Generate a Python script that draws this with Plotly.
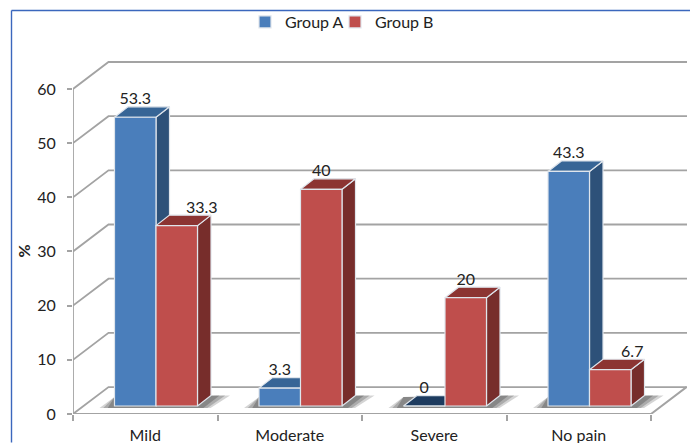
import plotly.graph_objects as go

# Chart data
categories = ["Mild", "Moderate", "Severe", "No pain"]
group_a = [53.3, 3.3, 0, 43.3]
group_b = [33.3, 40, 20, 6.7]
y_ticks = [0, 10, 20, 30, 40, 50, 60]

# Pixel scale of the plot area
WIDTH, HEIGHT = 690, 443
LEFT, RIGHT, TOP, BOTTOM = 73, 3, 60, 28.5
PX_PER_CAT = 144.5
PX_PER_PCT = 5.425
PLOT_W = WIDTH - LEFT - RIGHT
PLOT_H = HEIGHT - TOP - BOTTOM


def ux(px):
    return px / PX_PER_CAT


def uy(px):
    return px / PX_PER_PCT


x_max = ux(PLOT_W)
y_max = uy(PLOT_H)
n_cat = len(categories)

# Oblique projection: depth of the room, floor inset, and depth of a bar
ROOM_DX, ROOM_DY = ux(35.5), uy(27)
FLOOR_DX, FLOOR_DY = ux(10.75), uy(8.0)
BAR_DX, BAR_DY = ux(13.5), uy(10.5)
BAR_W = ux(41.5)

GRID = "#a3a3a3"
FONT = "Lato, 'Noto Sans', sans-serif"
INK = "#222222"
EDGE = "#dfe5ec"

fig = go.Figure()


def polygons(polys):
    xs, ys = [], []
    for poly in polys:
        for px_, py_ in poly + [poly[0]]:
            xs.append(px_)
            ys.append(py_)
        xs.append(None)
        ys.append(None)
    return xs, ys


def add_fill(polys, fill, line=None, z=1, width=1.2):
    xs, ys = polygons(polys)
    fig.add_trace(go.Scatter(
        x=xs, y=ys, mode="lines", fill="toself", fillcolor=fill,
        line=dict(color=line or fill, width=width if line else 0),
        hoverinfo="skip", showlegend=False, zorder=z, cliponaxis=False,
    ))


def add_line(xs, ys, width=1.8, z=0):
    fig.add_trace(go.Scatter(
        x=xs, y=ys, mode="lines", line=dict(color=GRID, width=width),
        hoverinfo="skip", showlegend=False, zorder=z, cliponaxis=False,
    ))


# Back wall, side wall and floor
for tick in y_ticks:
    add_line([0, ROOM_DX, x_max], [tick, tick + ROOM_DY, tick + ROOM_DY])
add_line([0, 0], [0, y_ticks[-1]])
add_line([0, n_cat, n_cat + ROOM_DX], [0, 0, ROOM_DY], width=2)


def bar_left(i, series):
    return i + 0.5 + FLOOR_DX + (series - 1) * BAR_W


# Soft floor shadows behind each pair of bars, darkest next to the bars
for grow, alpha in ((1.0, 0.25), (0.75, 0.32), (0.45, 0.42)):
    shade = []
    for i in range(n_cat):
        x0 = bar_left(i, 0)
        x1 = bar_left(i, 1) + BAR_W
        shade.append([
            (x0 - ux(15) * grow, FLOOR_DY - uy(2)),
            (x0, FLOOR_DY + uy(9)),
            (x1 + BAR_DX + ux(19) * grow, FLOOR_DY + BAR_DY),
            (x1 + ux(13) * grow, FLOOR_DY - uy(2)),
        ])
    add_fill(shade, f"rgba(85,85,85,{alpha})", z=0)


def add_series(name, values, series, front, top, side, zero_top, z, legend_id):
    tops, sides, flats = [], [], []
    for i, v in enumerate(values):
        x0 = bar_left(i, series)
        x1 = x0 + BAR_W
        base = FLOOR_DY
        t = base + v
        face = [(x0, t), (x1, t), (x1 + BAR_DX, t + BAR_DY), (x0 + BAR_DX, t + BAR_DY)]
        (flats if v == 0 else tops).append(face)
        if v > 0:
            sides.append([(x1, base), (x1, t), (x1 + BAR_DX, t + BAR_DY), (x1 + BAR_DX, base + BAR_DY)])
    add_fill(sides, side, EDGE, z)
    add_fill(tops, top, EDGE, z)
    if flats:
        add_fill(flats, zero_top, EDGE, z)
    fig.add_trace(go.Bar(
        name=name,
        x=[i + 0.5 for i in range(n_cat)],
        y=values,
        base=FLOOR_DY,
        width=BAR_W,
        offset=FLOOR_DX + (series - 1) * BAR_W,
        marker=dict(color=front, line=dict(color=EDGE, width=1.2)),
        zorder=z + 1,
        hoverinfo="skip",
        showlegend=True,
        legend=legend_id,
    ))


add_series("Group A", group_a, 0, "#4a7ebb", "#376596", "#2d5179", "#1d3b5f", 1, "legend")
add_series("Group B", group_b, 1, "#bf4e4c", "#8c3432", "#772d2b", "#772d2b", 3, "legend2")

# Value labels sit just above the top face; two are nudged clear of the taller neighbour
shift_a = [0, 0, 0, 0]
shift_b = [25, 0, 0, 22]
label_x, label_y, label_text = [], [], []
for series, values, shifts in ((0, group_a, shift_a), (1, group_b, shift_b)):
    for i, v in enumerate(values):
        label_x.append(bar_left(i, series) + BAR_W / 2 + ux(shifts[i]))
        label_y.append(FLOOR_DY + v + uy(17))
        label_text.append(f"{v:g}")
fig.add_trace(go.Scatter(
    x=label_x, y=label_y, text=label_text, mode="text",
    textposition="middle center",
    textfont=dict(family=FONT, size=16, color=INK),
    hoverinfo="skip", showlegend=False, zorder=6, cliponaxis=False,
))

# Chart frame: only the top and left edges fall inside the page
frame_x = (11.5 - LEFT) / PLOT_W
frame_y = (HEIGHT - BOTTOM - 10.5) / PLOT_H
frame_x1 = (WIDTH - LEFT) / PLOT_W
frame_y0 = -BOTTOM / PLOT_H
frame = dict(color="#3b67bd", width=1.4)
fig.add_shape(type="line", xref="paper", yref="paper", x0=frame_x, x1=frame_x1, y0=frame_y, y1=frame_y, line=frame)
fig.add_shape(type="line", xref="paper", yref="paper", x0=frame_x, x1=frame_x, y0=frame_y0, y1=frame_y, line=frame)

# Axis title placed beside the 30 tick
fig.add_annotation(
    text="<b>%</b>", textangle=-90, xref="paper", yref="y",
    x=(23 - LEFT) / PLOT_W, y=30, showarrow=False,
    xanchor="center", yanchor="middle",
    font=dict(family=FONT, size=16, color=INK),
)


def legend_box(px_left):
    return dict(
        orientation="h", x=(px_left - LEFT) / PLOT_W, y=(HEIGHT - BOTTOM - 22) / PLOT_H,
        xanchor="left", yanchor="middle", font=dict(size=16), itemwidth=30,
        bgcolor="rgba(0,0,0,0)",
    )


fig.update_layout(
    width=WIDTH,
    height=HEIGHT,
    margin=dict(l=LEFT, r=RIGHT, t=TOP, b=BOTTOM, pad=0, autoexpand=False),
    paper_bgcolor="white",
    plot_bgcolor="white",
    barmode="overlay",
    font=dict(family=FONT, size=16, color=INK),
    legend=legend_box(245),
    legend2=legend_box(335),
    xaxis=dict(
        range=[0, x_max], showgrid=False, zeroline=False, showline=False,
        automargin=False,
        tickmode="array",
        tickvals=[i + 0.5 for i in range(n_cat)],
        ticktext=categories,
        ticks="", ticklabelstandoff=10,
        minor=dict(tickmode="array", tickvals=list(range(n_cat + 1)), ticks="outside",
                   ticklen=6, tickwidth=1.5, tickcolor=GRID, showgrid=False),
        tickfont=dict(family=FONT, size=16, color=INK),
    ),
    yaxis=dict(
        range=[0, y_max], showgrid=False, zeroline=False, showline=False,
        automargin=False,
        tickmode="array", tickvals=y_ticks,
        ticks="outside", ticklen=5, tickwidth=1.5, tickcolor=GRID,
        ticklabelstandoff=8,
        tickfont=dict(family=FONT, size=16, color=INK),
    ),
)

fig.write_html("out.html")
